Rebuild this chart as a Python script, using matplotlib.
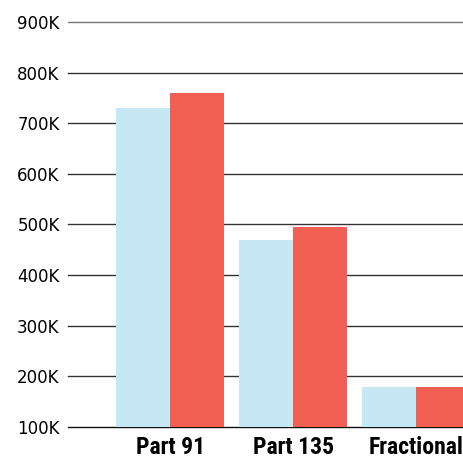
import numpy as np
import matplotlib.pyplot as plt

categories = ['Part 91', 'Part 135', 'Fractional']
series_a = [730000, 470000, 180000]   # light blue
series_b = [760000, 495000, 180000]   # red
yticks = [100000, 200000, 300000, 400000, 500000, 600000, 700000, 800000, 900000]
ytick_labels = ['100K', '200K', '300K', '400K', '500K', '600K', '700K', '800K', '900K']

fig = plt.figure(figsize=(4.63, 4.59), dpi=100)
ax = fig.add_axes([68/463, 32/459, 395/463, 405/459])

x = np.arange(len(categories))
w = 0.44
ax.bar(x - w/2, np.array(series_a) - 100000, width=w, bottom=100000,
       color='#C6E8F4', zorder=3)
ax.bar(x + w/2, np.array(series_b) - 100000, width=w, bottom=100000,
       color='#F05F52', zorder=3)

ax.set_xlim(-0.83, 2.38)
ax.set_ylim(100000, 900000)

ax.set_yticks(yticks)
ax.set_yticklabels(ytick_labels, fontsize=12)
ax.set_xticks(x)
ax.set_xticklabels(categories, fontsize=17, fontweight='bold',
                   family=['Roboto Condensed', 'Archivo Narrow', 'DejaVu Sans'])
ax.tick_params(axis='y', length=0, pad=6)
ax.tick_params(axis='x', length=0, pad=6.5)

for s in ax.spines.values():
    s.set_visible(False)

# horizontal grid lines, baseline darkest and top line lighter
for y in yticks:
    c = '#111111' if y == 100000 else '#333333'
    if y == 900000:
        c = '#777777'
    ax.axhline(y, color=c, lw=1.0, zorder=1, clip_on=False)

fig.savefig('out.png', dpi=100)
